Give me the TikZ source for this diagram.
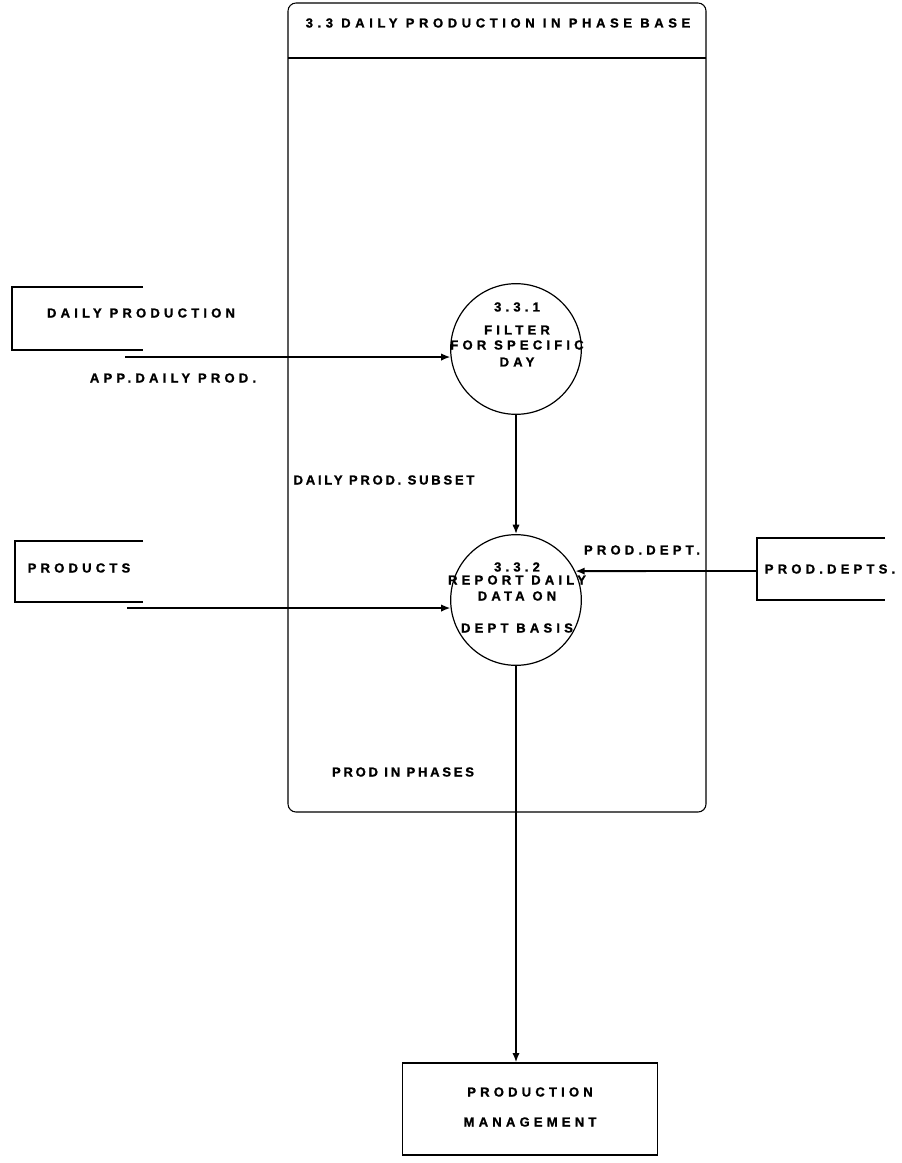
\documentclass[tikz,border=0pt]{standalone}
\usepackage{fontspec}
\setsansfont{Liberation Sans}[BoldFeatures={FakeBold=1.2}]
\usetikzlibrary{arrows.meta}
\begin{document}
\begin{tikzpicture}[x=0.75pt,y=-0.75pt,
  lbl/.style={font=\sffamily\bfseries\fontsize{9.8}{11}\selectfont\addfontfeatures{LetterSpace=32}, inner sep=0pt},
  lblwide/.style={lbl, font=\sffamily\bfseries\fontsize{9.8}{11}\selectfont\addfontfeatures{LetterSpace=35}},
  lblnarrow/.style={lbl, font=\sffamily\bfseries\fontsize{9.8}{11}\selectfont\addfontfeatures{LetterSpace=21}},
  procbox/.style={circle, draw, line width=0.9pt, minimum size=98pt, inner sep=0pt},
  entbox/.style={rectangle, draw, line width=0.9pt, minimum width=191pt, minimum height=69pt, inner sep=0pt},
  storeline/.style={line width=0.9pt},
  flow/.style={line width=1.4pt, -{Latex[length=7pt,width=5.5pt]}},
  frame/.style={line width=0.8pt, rounded corners=6pt}]
\useasboundingbox (0,0) rectangle (902,1163);

% process frame with header
\draw[frame] (288,3) rectangle (706,812);
\draw[line width=0.8pt] (288,58) -- (706,58);
\node[lblwide] (title) at (498,23) {3.3 DAILY PRODUCTION IN PHASE BASE};

% data stores (open on the right)
\draw[storeline] (143,287) -- (12,287) -- (12,350) -- (143,350);
\node[lbl] (dp) at (141,313) {DAILY PRODUCTION};
\draw[storeline] (143,541) -- (15,541) -- (15,602) -- (143,602);
\node[lbl] (prods) at (79,568) {PRODUCTS};
\draw[storeline] (885,538) -- (757,538) -- (757,600) -- (885,600);
\node[lbl] (depts) at (830,569) {PROD.DEPTS.};

% processes
\node[procbox] (p1) at (516,349) {};
\node[lbl] (p1n) at (517,307) {3.3.1};
\node[lbl] (p1a) at (517,330) {FILTER};
\node[lbl] (p1b) at (517,345) {FOR SPECIFIC};
\node[lbl] (p1c) at (517,362) {DAY};

\node[procbox] (p2) at (516,600) {};
\node[lbl] (p2n) at (517,567) {3.3.2};
\node[lbl] (p2a) at (517,580) {REPORT DAILY};
\node[lbl] (p2b) at (517,596) {DATA ON};
\node[lbl] (p2c) at (517,628) {DEPT BASIS};

% external entity
\node[entbox] (pm) at (530,1109) {};
\node[lbl] (pma) at (530,1092) {PRODUCTION};
\node[lbl] (pmb) at (530,1122) {MANAGEMENT};

% flow start points
\coordinate (dpout) at (125,357);
\coordinate (prout) at (127,608);
\coordinate (dtout) at (757,571);

% data flows
\draw[flow] (dpout) -- (p1.187);
\draw[flow] (prout) -- (p2.187);
\draw[flow] (dtout) -- (p2.26);
\draw[flow] (p1.south) -- (p2.north);
\draw[flow] (p2.south) -- (p2.south |- pm.north);

% flow labels
\node[lbl] (f1) at (173,378) {APP.DAILY PROD.};
\node[lblnarrow] (f2) at (384,480) {DAILY PROD. SUBSET};
\node[lbl] (f3) at (642,550) {PROD.DEPT.};
\node[lblnarrow] (f4) at (403,772) {PROD IN PHASES};
\end{tikzpicture}
\end{document}
